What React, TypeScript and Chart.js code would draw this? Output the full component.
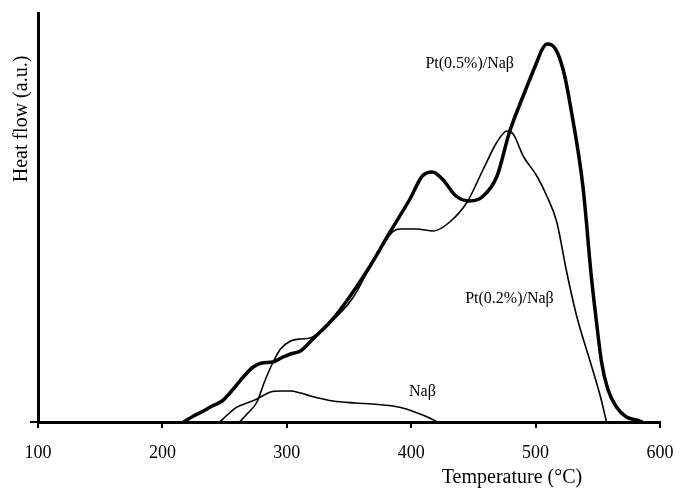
import React, { useEffect, useRef } from "react";
import { Chart, registerables } from "chart.js";

Chart.register(...registerables);

// Temperature (°C) and heat flow (a.u.)
const tempPt05 = [217, 225, 233, 240, 248, 257, 265, 273, 280, 289, 297, 303, 311, 321, 337, 351, 367, 383, 399, 409, 417, 425, 436, 447, 458, 469, 479, 490, 501, 505, 509, 513, 518, 523, 528, 538, 545, 548, 553, 558, 565, 573, 581, 586];
const heatPt05 = [0, 6, 11, 16, 21, 33, 45, 55, 59, 60, 65, 68, 71, 83, 103, 126, 156, 190, 223, 246, 250, 243, 226, 221, 226, 246, 290, 326, 360, 372, 378, 377, 368, 348, 316, 236, 143, 110, 60, 33, 15, 5, 2, 0];

const tempPt02 = [262, 268, 276, 282, 289, 295, 303, 311, 319, 332, 353, 369, 385, 391, 404, 418, 431, 445, 458, 469, 477, 482, 490, 501, 509, 517, 525, 533, 544, 552, 557];
const heatPt02 = [0, 8, 20, 40, 60, 73, 81, 83, 84, 96, 124, 160, 190, 193, 193, 191, 200, 220, 253, 280, 291, 288, 266, 246, 226, 200, 150, 106, 60, 26, 0];

const tempNa = [246, 253, 260, 268, 276, 287, 295, 303, 311, 319, 337, 355, 369, 385, 396, 405, 413, 421];
const heatNa = [0, 8, 15, 19, 23, 30, 31, 31, 29, 26, 21, 19, 18, 16, 13, 9, 5, 0];

const xTicks = [100, 200, 300, 400, 500, 600];

const labelTexts = ["Pt(0.5%)/Naβ", "Pt(0.2%)/Naβ", "Naβ"];
const labelTemps = [447, 479, 409];
const labelHeats = [358, 123, 30];

const xTitle = "Temperature (°C)";
const yTitle = "Heat flow (a.u.)";

const SERIF = "'Liberation Serif', 'DejaVu Serif', 'Times New Roman', serif";

const toPoints = (xs: number[], ys: number[]) => xs.map((x, i) => ({ x, y: ys[i] }));

const textPlugin = {
  id: "textPlugin",
  afterDraw(chart: any) {
    const ctx = chart.ctx;
    const xs = chart.scales.x;
    const ys = chart.scales.y;
    ctx.save();
    ctx.fillStyle = "#000";
    ctx.textAlign = "center";
    ctx.textBaseline = "middle";
    ctx.font = `16px ${SERIF}`;
    labelTexts.forEach((t, i) => {
      ctx.fillText(t, xs.getPixelForValue(labelTemps[i]), ys.getPixelForValue(labelHeats[i]));
    });
    ctx.font = `20px ${SERIF}`;
    ctx.fillText(xTitle, xs.getPixelForValue(481), chart.height - 12);
    ctx.translate(22, ys.getPixelForValue(303));
    ctx.rotate(-Math.PI / 2);
    ctx.fillText(yTitle, 0, 0);
    ctx.restore();
  },
};

export default function App() {
  const ref = useRef<HTMLCanvasElement | null>(null);

  useEffect(() => {
    if (!ref.current) return;
    const common = { pointRadius: 0, borderColor: "#000", fill: false, cubicInterpolationMode: "monotone" as const };
    const chart = new Chart(ref.current, {
      type: "line",
      data: {
        datasets: [
          { ...common, label: "Pt(0.5%)/Naβ", data: toPoints(tempPt05, heatPt05), borderWidth: 3.5 },
          { ...common, label: "Pt(0.2%)/Naβ", data: toPoints(tempPt02, heatPt02), borderWidth: 1.6 },
          { ...common, label: "Naβ", data: toPoints(tempNa, heatNa), borderWidth: 1.6 },
        ],
      },
      options: {
        animation: false,
        responsive: false,
        maintainAspectRatio: false,
        layout: { padding: { top: 13, right: 20, left: 0, bottom: 0 } },
        plugins: { legend: { display: false }, tooltip: { enabled: false } },
        scales: {
          x: {
            type: "linear",
            min: 100,
            max: 600,
            afterBuildTicks: (s: any) => {
              s.ticks = xTicks.map((v) => ({ value: v }));
            },
            afterFit: (s: any) => {
              s.height = 68;
              s.paddingLeft = 0;
              s.paddingRight = 0;
            },
            grid: { drawOnChartArea: false, drawTicks: true, tickLength: 6, lineWidth: 2, color: "#000" },
            border: { display: true, width: 3, color: "#000" },
            ticks: { color: "#000", font: { family: SERIF, size: 18 }, padding: 14, maxRotation: 0, autoSkip: false },
          },
          y: {
            type: "linear",
            min: 0,
            max: 409,
            afterFit: (s: any) => {
              s.width = 38;
              s.paddingTop = 0;
              s.paddingBottom = 0;
            },
            grid: {
              drawOnChartArea: false,
              drawTicks: true,
              tickLength: 8,
              lineWidth: 2,
              color: (c: any) => (c.tick && c.tick.value === 0 ? "#000" : "rgba(0,0,0,0)"),
            },
            border: { display: true, width: 3, color: "#000" },
            ticks: { display: false },
          },
        },
      },
      plugins: [textPlugin],
    });
    return () => chart.destroy();
  }, []);

  return (
    <div style={{ position: "fixed", left: 0, top: 0, width: 680, height: 490, background: "#fff" }}>
      <canvas ref={ref} width={680} height={490} style={{ width: 680, height: 490, display: "block" }} />
    </div>
  );
}
